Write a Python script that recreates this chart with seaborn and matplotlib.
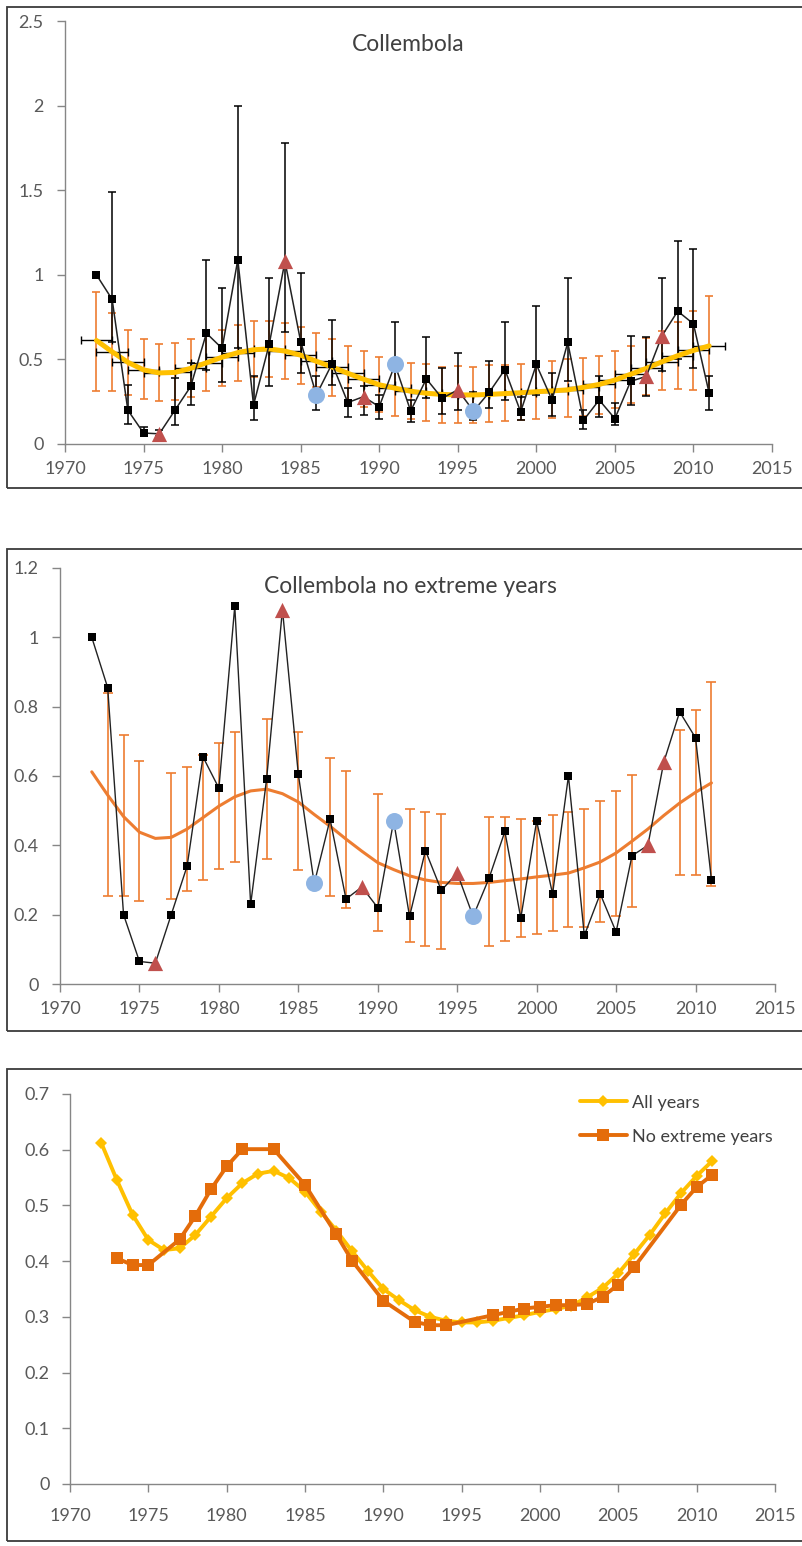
import numpy as np
import pandas as pd
import matplotlib
matplotlib.use("Agg")
import matplotlib.pyplot as plt
from matplotlib.patches import Rectangle
import seaborn as sns

# ---------------- data ----------------
years = list(range(1972, 2012))

# yearly Collembola abundance with its confidence limits
abundance = [1.00, 0.855, 0.20, 0.065, 0.06, 0.20, 0.34, 0.655, 0.565, 1.09,
             0.23, 0.59, 1.08, 0.605, 0.29, 0.475, 0.245, 0.28, 0.22, 0.47,
             0.195, 0.385, 0.27, 0.32, 0.195, 0.305, 0.44, 0.19, 0.47, 0.26,
             0.60, 0.14, 0.26, 0.15, 0.37, 0.40, 0.64, 0.785, 0.71, 0.30]
abund_lo = [1.00, 0.60, 0.12, 0.05, 0.05, 0.11, 0.23, 0.435, 0.365, 0.57,
            0.14, 0.34, 0.66, 0.42, 0.20, 0.35, 0.16, 0.17, 0.15, 0.33,
            0.13, 0.27, 0.18, 0.20, 0.14, 0.21, 0.26, 0.14, 0.29, 0.165,
            0.37, 0.09, 0.16, 0.11, 0.23, 0.285, 0.43, 0.50, 0.45, 0.20]
abund_hi = [1.00, 1.49, 0.35, 0.10, 0.08, 0.39, 0.48, 1.09, 0.92, 2.00,
            0.40, 0.98, 1.78, 1.01, 0.40, 0.73, 0.33, 0.34, 0.29, 0.72,
            0.26, 0.63, 0.45, 0.54, 0.31, 0.49, 0.72, 0.28, 0.815, 0.42,
            0.98, 0.20, 0.40, 0.24, 0.64, 0.63, 0.98, 1.20, 1.15, 0.40]

# smoothed trend over all years, with its band
trend_all = [0.612, 0.545, 0.483, 0.438, 0.420, 0.423, 0.447, 0.480, 0.513, 0.540,
             0.557, 0.562, 0.549, 0.525, 0.489, 0.455, 0.418, 0.383, 0.350, 0.330,
             0.312, 0.300, 0.293, 0.290, 0.290, 0.293, 0.298, 0.303, 0.309, 0.314,
             0.320, 0.335, 0.352, 0.378, 0.412, 0.447, 0.486, 0.522, 0.553, 0.580]
trend_lo = [0.314, 0.314, 0.288, 0.265, 0.255, 0.259, 0.275, 0.314, 0.345, 0.372,
            0.396, 0.396, 0.382, 0.357, 0.337, 0.283, 0.250, 0.220, 0.190, 0.165,
            0.146, 0.138, 0.127, 0.127, 0.127, 0.129, 0.133, 0.142, 0.148, 0.156,
            0.162, 0.165, 0.177, 0.210, 0.244, 0.288, 0.318, 0.327, 0.318, 0.285]
trend_hi = [0.899, 0.776, 0.674, 0.618, 0.589, 0.596, 0.618, 0.645, 0.676, 0.704,
            0.727, 0.727, 0.717, 0.694, 0.657, 0.618, 0.581, 0.552, 0.517, 0.490,
            0.480, 0.470, 0.458, 0.460, 0.458, 0.464, 0.468, 0.472, 0.480, 0.490,
            0.503, 0.509, 0.518, 0.552, 0.581, 0.624, 0.669, 0.721, 0.786, 0.873]
trend_year_err = 1.0

high_years = [1976, 1984, 1989, 1995, 2007, 2008]
low_years = [1986, 1991, 1996]

# trend without extreme years
ne_years = [1973, 1974, 1975, 1977, 1978, 1979, 1980, 1981, 1983, 1985,
            1987, 1988, 1990, 1992, 1993, 1994, 1997, 1998, 1999, 2000,
            2001, 2002, 2003, 2004, 2005, 2006, 2009, 2010, 2011]
trend_ne = [0.405, 0.393, 0.393, 0.439, 0.481, 0.529, 0.570, 0.601, 0.601, 0.537,
            0.448, 0.401, 0.329, 0.291, 0.285, 0.285, 0.303, 0.309, 0.315, 0.318,
            0.321, 0.321, 0.323, 0.336, 0.358, 0.389, 0.501, 0.533, 0.555]
ne_lo = [0.255, 0.255, 0.240, 0.245, 0.269, 0.300, 0.332, 0.353, 0.361, 0.329,
         0.255, 0.218, 0.154, 0.120, 0.111, 0.100, 0.111, 0.124, 0.135, 0.144,
         0.154, 0.165, 0.165, 0.178, 0.196, 0.221, 0.313, 0.313, 0.284]
ne_hi = [0.839, 0.719, 0.642, 0.608, 0.627, 0.660, 0.695, 0.726, 0.764, 0.726,
         0.651, 0.613, 0.548, 0.505, 0.495, 0.491, 0.481, 0.481, 0.476, 0.470,
         0.488, 0.497, 0.505, 0.529, 0.558, 0.603, 0.733, 0.791, 0.872]

x_ticks = [1970, 1975, 1980, 1985, 1990, 1995, 2000, 2005, 2010, 2015]
titles = ["Collembola", "Collembola no extreme years"]
legend_labels = ["All years", "No extreme years"]

# ---------------- styling ----------------
GOLD = "#FFC000"
ORANGE = "#ED7D31"
DARK_ORANGE = "#E46C0A"
RED = "#C0504D"
BLUE = "#8EB4E3"
AXIS_GREY = "#868686"
TEXT_GREY = "#595959"

sns.set_theme(style="white")
plt.rcParams["font.family"] = ["Lato", "DejaVu Sans"]

W, H = 802, 1546
fig = plt.figure(figsize=(W / 100, H / 100), dpi=100)


def px_axes(left, top, right, bottom):
    return fig.add_axes([left / W, 1 - bottom / H, (right - left) / W, (bottom - top) / H])


def frame(left, top, right, bottom):
    fig.add_artist(Rectangle((left / W, 1 - bottom / H), (right - left) / W,
                             (bottom - top) / H, transform=fig.transFigure,
                             fill=False, ec="#3a3a3a", lw=1.3, zorder=0))


def style_axes(ax, ymax, ystep, xpad, ypad):
    ax.set_xlim(1970, 2015)
    ax.set_xticks(x_ticks)
    ax.set_xticklabels([str(t) for t in x_ticks])
    yt = np.round(np.arange(0, ymax + 1e-9, ystep), 3)
    ax.set_ylim(0, ymax)
    ax.set_yticks(yt)
    ax.set_yticklabels([f"{v:g}" for v in yt])
    for s in ("top", "right"):
        ax.spines[s].set_visible(False)
    for s in ("left", "bottom"):
        ax.spines[s].set_color(AXIS_GREY)
        ax.spines[s].set_linewidth(1.0)
    ax.tick_params(axis="both", direction="out", length=5.5, width=1.0,
                   color=AXIS_GREY, labelsize=13, labelcolor=TEXT_GREY,
                   bottom=True, left=True)
    ax.tick_params(axis="x", pad=xpad)
    ax.tick_params(axis="y", pad=ypad)
    ax.set_xlabel("")
    ax.set_ylabel("")
    ax.patch.set_alpha(0)


df = pd.DataFrame({"year": years, "abundance": abundance,
                   "lo": abund_lo, "hi": abund_hi,
                   "trend": trend_all, "t_lo": trend_lo, "t_hi": trend_hi})
df_high = df[df["year"].isin(high_years)]
df_low = df[df["year"].isin(low_years)]
df_norm = df[~df["year"].isin(high_years + low_years)]
df_ne = pd.DataFrame({"year": ne_years, "trend": trend_ne, "lo": ne_lo, "hi": ne_hi})

# ---------------- panel 1: all years ----------------
frame(7, 7, 812, 488)
ax1 = px_axes(65, 21, 772, 444)

tr = df["trend"].to_numpy()
ax1.errorbar(df["year"], tr, yerr=[tr - df["t_lo"], df["t_hi"] - tr], fmt="none",
             ecolor=ORANGE, elinewidth=1.2, capsize=3.2, capthick=1.2, zorder=1)
ax1.errorbar(df["year"], tr, xerr=trend_year_err, fmt="none",
             ecolor="black", elinewidth=1.0, capsize=3.0, capthick=1.0, zorder=1.2)
ab = df["abundance"].to_numpy()
ax1.errorbar(df["year"], ab, yerr=[ab - df["lo"], df["hi"] - ab], fmt="none",
             ecolor="black", elinewidth=1.1, capsize=3.0, capthick=1.1, zorder=1.5)
sns.lineplot(data=df, x="year", y="trend", ax=ax1, color=GOLD, lw=3.6,
             solid_capstyle="round", zorder=2)
sns.lineplot(data=df, x="year", y="abundance", ax=ax1, color="#222222", lw=1.1, zorder=3)
sns.scatterplot(data=df_norm, x="year", y="abundance", ax=ax1, marker="s", s=36,
                color="black", edgecolor="black", linewidth=0, zorder=4)
sns.scatterplot(data=df_high, x="year", y="abundance", ax=ax1, marker="^", s=120,
                color=RED, linewidth=0, zorder=5)
sns.scatterplot(data=df_low, x="year", y="abundance", ax=ax1, marker="o", s=150,
                color=BLUE, linewidth=0, zorder=5)
style_axes(ax1, 2.5, 0.5, xpad=7, ypad=10)
ax1.text(0.485, 0.945, titles[0], transform=ax1.transAxes, ha="center", va="center",
         fontsize=16.5, color="#404040")

# ---------------- panel 2: no extreme years ----------------
frame(7, 549, 812, 1031)
ax2 = px_axes(60, 568, 775, 984)
ne = df_ne["trend"].to_numpy()
ax2.errorbar(df_ne["year"], ne, yerr=[ne - df_ne["lo"], df_ne["hi"] - ne], fmt="none",
             ecolor=ORANGE, elinewidth=1.2, capsize=3.5, capthick=1.2, zorder=1)
sns.lineplot(data=df, x="year", y="trend", ax=ax2, color=ORANGE, lw=2.2, zorder=2)
sns.lineplot(data=df, x="year", y="abundance", ax=ax2, color="#222222", lw=1.0, zorder=3)
sns.scatterplot(data=df_norm, x="year", y="abundance", ax=ax2, marker="s", s=28,
                color="black", linewidth=0, zorder=4)
sns.scatterplot(data=df_high, x="year", y="abundance", ax=ax2, marker="^", s=120,
                color=RED, linewidth=0, zorder=5)
sns.scatterplot(data=df_low, x="year", y="abundance", ax=ax2, marker="o", s=150,
                color=BLUE, linewidth=0, zorder=5)
style_axes(ax2, 1.2, 0.2, xpad=7, ypad=10)
ax2.text(0.49, 0.955, titles[1], transform=ax2.transAxes, ha="center", va="center",
         fontsize=16.5, color="#404040")

# ---------------- panel 3: trend comparison ----------------
frame(7, 1069, 812, 1541)
ax3 = px_axes(70, 1094, 775, 1484)
sns.lineplot(data=df, x="year", y="trend", ax=ax3, color=GOLD, lw=2.8,
             marker="D", markersize=6, markeredgewidth=0, label=legend_labels[0], zorder=3)
sns.lineplot(data=df_ne, x="year", y="trend", ax=ax3, color=DARK_ORANGE, lw=2.8,
             marker="s", markersize=9, markeredgewidth=0, label=legend_labels[1], zorder=4)
style_axes(ax3, 0.7, 0.1, xpad=12, ypad=9)
ax3.legend(loc="upper left", bbox_to_anchor=(0.70, 1.04), frameon=False,
           fontsize=13, handlelength=2.6, handletextpad=0.3, labelspacing=1.0,
           labelcolor="#404040")

fig.savefig("out.png", dpi=100)
